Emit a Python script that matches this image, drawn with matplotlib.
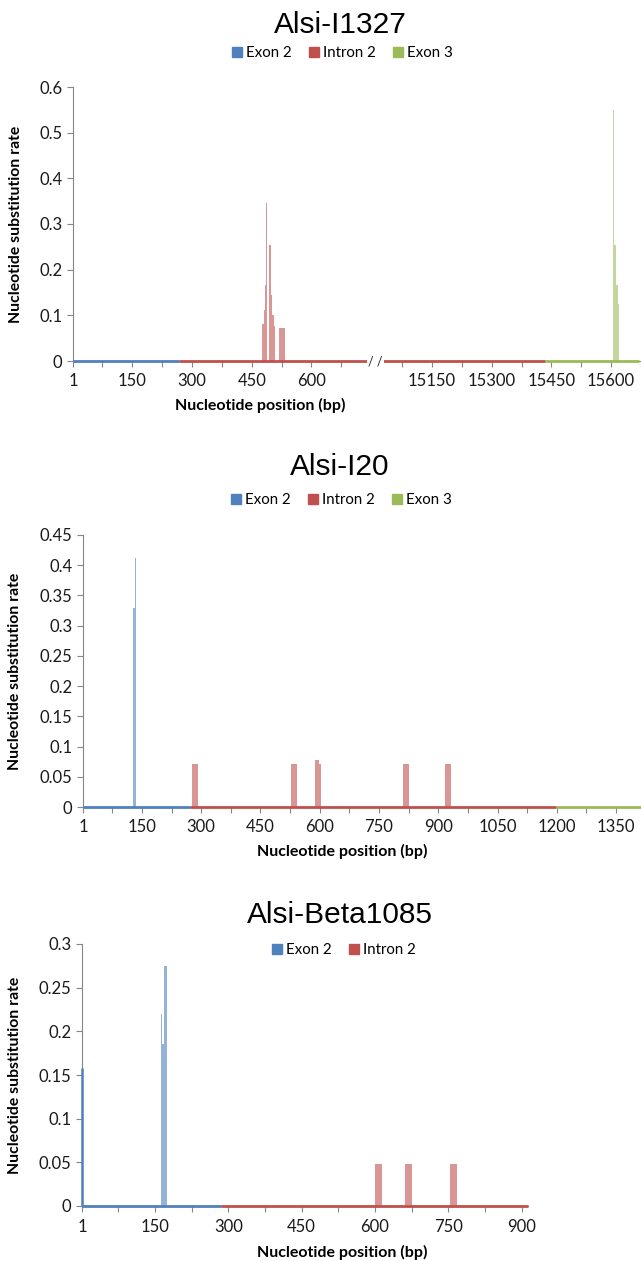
import numpy as np
import matplotlib.pyplot as plt
from matplotlib.lines import Line2D

plt.rcParams['font.family'] = ['Lato', 'DejaVu Sans']

# series colours (baseline) and lighter fill for the bars
blue, red, green = '#4F81BD', '#C0504D', '#9BBB59'
blue_bar, red_bar, green_bar = '#95B3D7', '#D99694', '#C3D69B'
grey = '#868686'

# ---- Alsi-I1327 (x axis broken between 757 and 15004) ----
i1327_exon2 = (1, 268)
i1327_intron2 = (268, 15433)
i1327_exon3 = (15433, 15670)
i1327_break = (757, 15004)
i1327_intron_pos = [477, 480, 483, 486, 494, 496, 499, 502, 505, 519, 522, 525, 528, 530]
i1327_intron_rate = [0.082, 0.111, 0.166, 0.345, 0.255, 0.255, 0.144, 0.10, 0.077,
                     0.072, 0.072, 0.072, 0.072, 0.072]
i1327_exon3_pos = [15605, 15608, 15610, 15613, 15616]
i1327_exon3_rate = [0.55, 0.255, 0.255, 0.167, 0.124]
i1327_labels = [1, 150, 300, 450, 600, 15150, 15300, 15450, 15600]

# ---- Alsi-I20 ----
i20_exon2 = (1, 271)
i20_intron2 = (271, 1198)
i20_exon3 = (1198, 1413)
i20_exon2_pos = [127, 130, 133]
i20_exon2_rate = [0.33, 0.33, 0.412]
i20_intron_pos = [276, 279, 282, 285, 288, 528, 531, 534, 537, 540,
                  588, 591, 594, 597, 600, 810, 813, 816, 819, 822,
                  917, 920, 923, 926, 929]
i20_intron_rate = [0.071, 0.071, 0.071, 0.071, 0.071, 0.071, 0.071, 0.071, 0.071, 0.071,
                   0.077, 0.077, 0.077, 0.071, 0.071, 0.071, 0.071, 0.071, 0.071, 0.071,
                   0.071, 0.071, 0.071, 0.071, 0.071]
i20_labels = [1, 150, 300, 450, 600, 750, 900, 1050, 1200, 1350]

# ---- Alsi-Beta1085 ----
b1085_exon2 = (1, 286)
b1085_intron2 = (286, 913)
b1085_exon2_pos = [1, 162, 165, 168, 171]
b1085_exon2_rate = [0.158, 0.22, 0.185, 0.275, 0.275]
b1085_intron_pos = [600, 603, 606, 609, 612, 661, 664, 667, 670, 673,
                    753, 756, 759, 762, 765]
b1085_intron_rate = [0.048] * 15
b1085_labels = [1, 150, 300, 450, 600, 750, 900]

W, H = 641, 1261
fig = plt.figure(figsize=(W / 100, H / 100), dpi=100)


def box(left, top, right, bottom):
    return [left / W, 1 - bottom / H, (right - left) / W, (bottom - top) / H]


def fmt(v):
    return '0' if v == 0 else ('%g' % v)


def style_axis(ax, ymax, ystep):
    for s in ['top', 'right']:
        ax.spines[s].set_visible(False)
    ax.spines['left'].set_color(grey)
    ax.spines['bottom'].set_color(grey)
    ax.spines['left'].set_zorder(1)
    ax.set_ylim(0, ymax)
    yt = np.round(np.arange(0, ymax + 1e-9, ystep), 3)
    ax.set_yticks(yt)
    ax.set_yticklabels([fmt(v) for v in yt])
    ax.tick_params(axis='both', colors=grey, labelcolor='#1a1a1a', labelsize=12,
                   length=4, width=0.8, direction='out')
    ax.tick_params(axis='x', pad=5)


def baseline(ax, seg, color, f=lambda x: x):
    ax.plot([f(seg[0]), f(seg[1])], [0, 0], color=color, lw=2,
            solid_capstyle='butt', clip_on=False, zorder=4)


def legend(ax, names, colors, cx, cy):
    handles = [Line2D([], [], ls='', marker='s', ms=7, color=c) for c in colors]
    ax.legend(handles, names, loc='center', bbox_to_anchor=(cx / W, 1 - cy / H),
              bbox_transform=fig.transFigure, ncol=len(names), frameon=False,
              handlelength=0.8, handletextpad=0.2, columnspacing=1.1, fontsize=10.8)


def texts(ax, title, ty, xl_x, xl_y, yl_x):
    fig.text(340 / W, 1 - ty / H, title, ha='center', va='center', fontsize=21.5,
             family='Liberation Sans')
    fig.text(xl_x / W, 1 - xl_y / H, 'Nucleotide position (bp)', ha='center',
             va='center', fontsize=11.5, fontweight='bold')
    ax.set_ylabel('Nucleotide substitution rate', fontsize=11.3, fontweight='bold')
    ax.yaxis.set_label_coords(yl_x, 0.5)


# ================= panel 1 =================
shift = i1327_break[1] - i1327_break[0]


def m1(x):
    x = np.asarray(x, dtype=float)
    return np.where(x >= i1327_break[1], x - shift, x)


ax1 = fig.add_axes(box(73, 87, 641, 361))
style_axis(ax1, 0.6, 0.1)
ax1.bar(m1(i1327_intron_pos), i1327_intron_rate, width=3, align='edge',
        color=red_bar, linewidth=0, zorder=3)
ax1.bar(m1(i1327_exon3_pos), i1327_exon3_rate, width=3, align='edge',
        color=green_bar, linewidth=0, zorder=3)
baseline(ax1, i1327_exon2, blue, m1)
baseline(ax1, i1327_intron2, red, m1)
baseline(ax1, i1327_exon3, green, m1)
ax1.set_xlim(1, 1421)
tick_real = list(np.arange(0, 700, 75)) + list(np.arange(15075, 15700, 75))
tick_real[0] = 1
ax1.set_xticks(m1(tick_real))
ax1.set_xticklabels([str(t) if t in i1327_labels else '' for t in tick_real])
ax1.text(float(m1(i1327_break[0])) + 4, 0, '/ /', ha='center', va='center', fontsize=9,
         color='#222222', zorder=5,
         bbox=dict(boxstyle='square,pad=0.1', fc='white', ec='none'))
texts(ax1, 'Alsi-I1327', 25, 260, 405, -0.088)
legend(ax1, ['Exon 2', 'Intron 2', 'Exon 3'], [blue, red, green], 342, 53)

# ================= panel 2 =================
ax2 = fig.add_axes(box(83, 535, 641, 807))
style_axis(ax2, 0.45, 0.05)
ax2.bar(i20_exon2_pos, i20_exon2_rate, width=3, align='edge', color=blue_bar,
        linewidth=0, zorder=3)
ax2.bar(i20_intron_pos, i20_intron_rate, width=3, align='edge', color=red_bar,
        linewidth=0, zorder=3)
baseline(ax2, i20_exon2, blue)
baseline(ax2, i20_intron2, red)
baseline(ax2, i20_exon3, green)
ax2.set_xlim(1, 1413)
t2 = [1] + list(np.arange(75, 1413, 75))
ax2.set_xticks(t2)
ax2.set_xticklabels([str(t) if t in i20_labels else '' for t in t2])
texts(ax2, 'Alsi-I20', 467, 342, 851, -0.109)
legend(ax2, ['Exon 2', 'Intron 2', 'Exon 3'], [blue, red, green], 341, 500)

# ================= panel 3 =================
ax3 = fig.add_axes(box(82, 944, 528, 1206))
style_axis(ax3, 0.3, 0.05)
ax3.bar(b1085_exon2_pos[1:], b1085_exon2_rate[1:], width=3, align='edge',
        color=blue_bar, linewidth=0, zorder=3)
# first-position spike sits right on the y axis
ax3.vlines(b1085_exon2_pos[:1], 0, b1085_exon2_rate[:1], color=blue, lw=1.8,
           zorder=5, clip_on=False)
ax3.bar(b1085_intron_pos, b1085_intron_rate, width=3, align='edge', color=red_bar,
        linewidth=0, zorder=3)
baseline(ax3, b1085_exon2, blue)
baseline(ax3, b1085_intron2, red)
ax3.set_xlim(1, 913)
t3 = [1] + list(np.arange(75, 913, 75))
ax3.set_xticks(t3)
ax3.set_xticklabels([str(t) if t in b1085_labels else '' for t in t3])
texts(ax3, 'Alsi-Beta1085', 915, 342, 1252, -0.1345)
legend(ax3, ['Exon 2', 'Intron 2'], [blue, red], 343, 950)

fig.savefig('out.png', dpi=100)
